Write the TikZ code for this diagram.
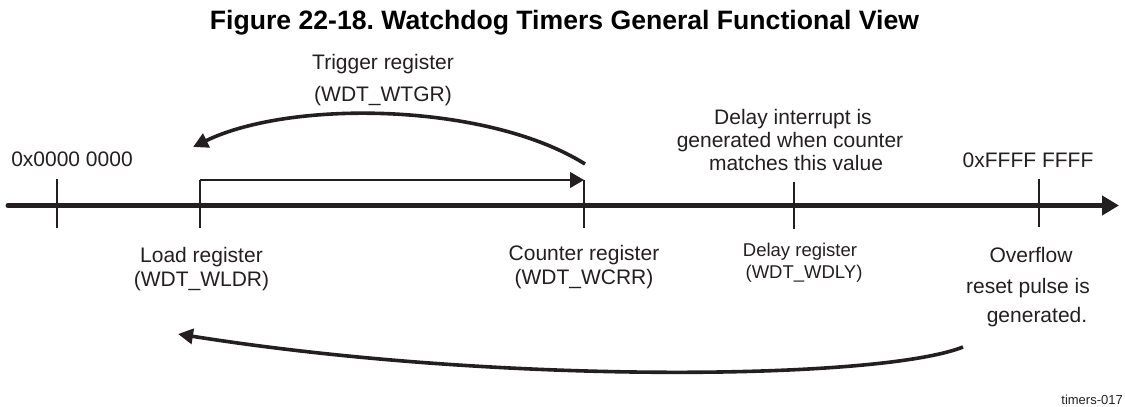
\documentclass[tikz,border=0pt]{standalone}
\usepackage{fontspec}
\setmainfont{Liberation Sans}
\usetikzlibrary{arrows.meta}
\definecolor{ink}{RGB}{35,31,32}
\frenchspacing
\begin{document}
\begin{tikzpicture}[x=1pt,y=-1pt,
  lbl/.style={anchor=base,inner sep=0pt,text=ink,font=\fontsize{21}{24}\selectfont},
  small/.style={anchor=base,inner sep=0pt,text=ink,font=\fontsize{18.5}{22}\selectfont},
  ttl/.style={anchor=base,inner sep=0pt,text=black,font=\fontsize{26.6}{30}\selectfont\bfseries},
  tag/.style={anchor=base east,inner sep=0pt,text=ink,font=\fontsize{13}{15}\selectfont},
  tick/.style={draw=ink,line width=1.2pt},
  axis/.style={draw=ink,line width=5pt,line cap=round,-{Triangle[length=17pt,width=19pt]}},
  bigarrow/.style={draw=ink,line width=3.6pt,-{Triangle[length=15pt,width=15pt]}},
  thinarrow/.style={draw=ink,line width=1.1pt,-{Triangle[length=14pt,width=16pt]}}]
\useasboundingbox (0,0) rectangle (1125,407);

% title
\node[ttl] (title) at (564.5,29) {\frenchspacing Figure 22-18. Watchdog Timers General Functional View};

% axis
\coordinate (axL) at (8,205.5);
\coordinate (axR) at (1119,205.5);
\draw[axis] (axL) -- (axR);

% ticks
\coordinate (t0a) at (57,179);   \coordinate (t0b) at (57,228);
\coordinate (t1a) at (200,180);  \coordinate (t1b) at (200,228);
\coordinate (t2a) at (584,180);  \coordinate (t2b) at (584,228);
\coordinate (t3a) at (794,182);  \coordinate (t3b) at (794,229);
\coordinate (t4a) at (1039,179); \coordinate (t4b) at (1039,227);
\draw[tick] (t0a) -- (t0b);
\draw[tick] (t2a) -- (t2b);
\draw[tick] (t3a) -- (t3b);
\draw[tick] (t4a) -- (t4b);
\draw[tick] (t1b) -- (t1a);
\draw[thinarrow] (t1a) -- (t2a);

% trigger arrow
\coordinate (trS) at (585,164);
\coordinate (trE) at (193,147);
\draw[bigarrow] (trS) .. controls (488,103) and (292,99) .. (trE);

% overflow arrow
\coordinate (ovS) at (963,347);
\coordinate (ovE) at (178,334);
\draw[bigarrow] (ovS) .. controls (880,380) and (500,385) .. (ovE);

% labels
\node[lbl] (trig1) at (383,69) {Trigger register};
\node[lbl] (trig2) at (383,101) {(WDT\_WTGR)};

\node[lbl] (zero) at (72,166) {0x0000 0000};
\node[lbl] (ffff) at (1028,167) {0xFFFF FFFF};

\node[lbl] (dint1) at (793,124) {Delay interrupt is};
\node[lbl] (dint2) at (790,147) {generated when counter};
\node[lbl] (dint3) at (796,170) {matches this value};

\node[lbl] (load1) at (201.5,262) {Load register};
\node[lbl] (load2) at (201.5,286) {(WDT\_WLDR)};

\node[lbl] (cnt1) at (584,260) {Counter register};
\node[lbl] (cnt2) at (584,284) {(WDT\_WCRR)};

\node[small] (dly1) at (800,256) {Delay register};
\node[small] (dly2) at (804,278) {(WDT\_WDLY)};

\node[lbl] (ovf1) at (1031,262) {Overflow};
\node[lbl] (ovf2) at (1028,293) {reset pulse is};
\node[lbl] (ovf3) at (1037,322) {generated.};

\node[tag] (fig) at (1123,404) {timers-017};
\end{tikzpicture}
\end{document}
